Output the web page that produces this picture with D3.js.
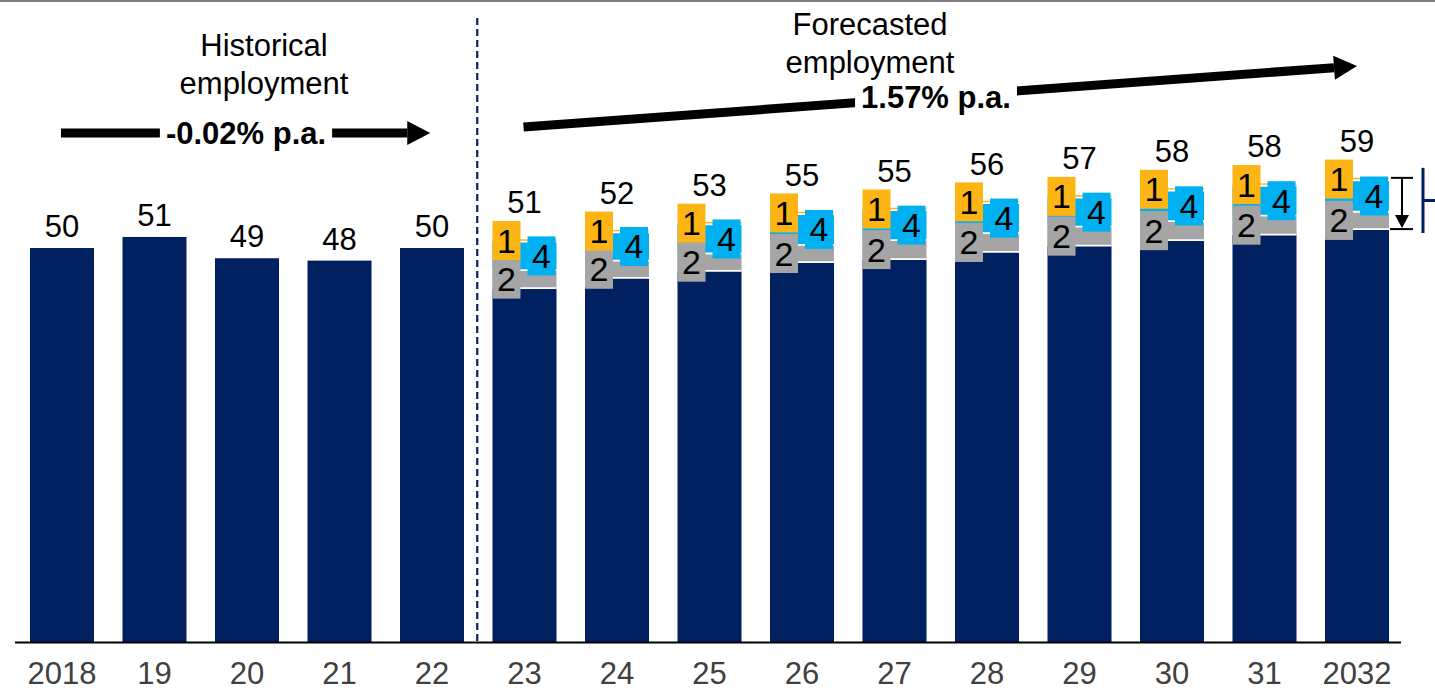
<!DOCTYPE html>
<html>
<head>
<meta charset="utf-8">
<script src="https://cdn.jsdelivr.net/npm/d3@7"></script>
<style>
  html, body { margin: 0; padding: 0; background: #fff; }
  svg { display: block; font-family: "Liberation Sans", Arial, sans-serif; }
</style>
</head>
<body>
<svg id="chart" width="1435" height="693"></svg>
<script>
// Years on the axis (historical then forecast)
const histYears = ["2018", "19", "20", "21", "22"];
const foreYears = ["23", "24", "25", "26", "27", "28", "29", "30", "31", "2032"];

// Historical employment
const histValues = [50.0, 51.4, 48.7, 48.4, 50.0];

// Forecast employment, stacked components
const foreBase   = [44.9, 46.2, 47.1, 48.2, 48.6, 49.5, 50.3, 51.0, 51.7, 52.4];
const foreGray   = [2.3, 2.2, 2.2, 2.2, 2.4, 2.4, 2.4, 2.4, 2.4, 2.2];
const foreBlue   = [3.6, 3.6, 3.7, 3.9, 3.8, 3.8, 3.7, 3.9, 3.8, 4.0];
const foreOrange = [0.3, 0.3, 0.3, 0.3, 0.3, 0.3, 0.3, 0.3, 0.3, 0.3];

// Segment markers
const segKeys    = ["base", "gray", "blue", "orange"];
const segMarkers = ["", "2", "4", "1"];

// Growth annotations
const histGrowth = "-0.02% p.a.";
const foreGrowth = "1.57% p.a.";

const NAVY = "#002060", GRAY = "#A5A5A5", BLUE = "#00B0F0", ORANGE = "#FDB515";
const segColors = [NAVY, GRAY, BLUE, ORANGE];

const svg = d3.select("#chart");
const W = 1435, H = 693;

const years = histYears.concat(foreYears);
const x = d3.scaleBand().domain(years).range([15.75, 1403.25])
  .paddingInner(0.308).paddingOuter(0.154);
const y = d3.scaleLinear().domain([0, 60]).range([642, 642 - 60 * 7.88]);
const bw = x.bandwidth();
const fmt = d3.format(".0f");

// top rule
svg.append("rect").attr("x", 0).attr("y", 0).attr("width", W).attr("height", 2).attr("fill", "#808080");

// historical bars
const hist = histYears.map((yr, i) => ({ yr, v: histValues[i] }));
svg.append("g").selectAll("rect").data(hist).join("rect")
  .attr("x", d => x(d.yr)).attr("width", bw)
  .attr("y", d => y(d.v)).attr("height", d => y(0) - y(d.v))
  .attr("fill", NAVY);
svg.append("g").selectAll("text").data(hist).join("text")
  .attr("x", d => x(d.yr) + bw / 2).attr("y", d => y(d.v) - 11)
  .attr("text-anchor", "middle").attr("font-size", 31).attr("fill", "#000")
  .text(d => fmt(d.v));

// forecast stacked bars
const fore = foreYears.map((yr, i) => ({
  yr, base: foreBase[i], gray: foreGray[i], blue: foreBlue[i], orange: foreOrange[i]
}));
const stacked = d3.stack().keys(segKeys)(fore);
const gFore = svg.append("g");
stacked.forEach((layer, li) => {
  gFore.append("g").selectAll("rect").data(layer).join("rect")
    .attr("x", d => x(d.data.yr)).attr("width", bw)
    .attr("y", d => y(d[1])).attr("height", d => y(d[0]) - y(d[1]))
    .attr("fill", segColors[li]);
});
// white separators between segments
stacked.slice(0, 3).forEach(layer => {
  gFore.append("g").selectAll("line").data(layer).join("line")
    .attr("x1", d => x(d.data.yr)).attr("x2", d => x(d.data.yr) + bw)
    .attr("y1", d => y(d[1])).attr("y2", d => y(d[1]))
    .attr("stroke", "#fff").attr("stroke-width", 1.8);
});

// segment marker boxes
const boxW = 28, boxH = 39;
const boxPlacement = { 1: "left", 2: "right", 3: "left" };
[1, 2, 3].forEach(li => {
  const layer = stacked[li];
  const g = svg.append("g").selectAll("g").data(layer).join("g")
    .attr("transform", d => {
      const cy = (y(d[0]) + y(d[1])) / 2;
      const bx = boxPlacement[li] === "left" ? x(d.data.yr) : x(d.data.yr) + bw - boxW - 1;
      return `translate(${bx},${cy - boxH / 2})`;
    });
  g.append("rect").attr("width", boxW).attr("height", boxH).attr("fill", segColors[li]);
  g.append("text").attr("x", boxW / 2).attr("y", boxH / 2 + 12)
    .attr("text-anchor", "middle").attr("font-size", 34).attr("fill", "#000")
    .text(segMarkers[li]);
});

// forecast totals
svg.append("g").selectAll("text").data(fore).join("text")
  .attr("x", d => x(d.yr) + bw / 2)
  .attr("y", d => y(d.base + d.gray + d.blue + d.orange) - 26)
  .attr("text-anchor", "middle").attr("font-size", 31).attr("fill", "#000")
  .text(d => fmt(d.base + d.gray + d.blue + d.orange));

// x axis
svg.append("line").attr("x1", 15).attr("x2", 1401).attr("y1", y(0) + 0.5).attr("y2", y(0) + 0.5)
  .attr("stroke", "#000").attr("stroke-width", 2);
svg.append("g").selectAll("text").data(years).join("text")
  .attr("x", d => x(d) + bw / 2).attr("y", 684)
  .attr("text-anchor", "middle").attr("font-size", 31).attr("fill", "#404040")
  .text(d => d);

// historical / forecast divider
const divX = (x("22") + bw + x("23")) / 2 - 1;
svg.append("line").attr("x1", divX).attr("x2", divX).attr("y1", 18).attr("y2", y(0))
  .attr("stroke", NAVY).attr("stroke-width", 2.2).attr("stroke-dasharray", "7 4");

// section titles
function title(lines, cx, y0) {
  const t = svg.append("text").attr("text-anchor", "middle").attr("font-size", 31).attr("fill", "#000");
  lines.forEach((s, i) => t.append("tspan").attr("x", cx).attr("y", y0 + i * 37.5).text(s));
}
title(["Historical", "employment"], 264, 56);
title(["Forecasted", "employment"], 870, 35);

// growth arrows
function growthArrow(x0, y0, x1, y1, label, lx, ly) {
  const g = svg.append("g");
  const dx = x1 - x0, dy = y1 - y0, len = Math.hypot(dx, dy);
  const ux = dx / len, uy = dy / len;
  const headL = 23, headW = 12;
  const bx = x1 - ux * headL, by = y1 - uy * headL;
  g.append("line").attr("x1", x0).attr("y1", y0).attr("x2", bx).attr("y2", by)
    .attr("stroke", "#000").attr("stroke-width", 9);
  g.append("polygon").attr("fill", "#000").attr("points", [
    [x1, y1], [bx - uy * headW, by + ux * headW], [bx + uy * headW, by - ux * headW]
  ].map(p => p.join(",")).join(" "));
  const bg = g.append("rect").attr("fill", "#fff");
  const t = g.append("text").attr("x", lx).attr("y", ly + 11)
    .attr("text-anchor", "middle").attr("font-size", 31).attr("font-weight", "bold")
    .attr("fill", "#000").text(label);
  const bb = t.node().getBBox();
  bg.attr("x", bb.x - 6).attr("y", ly - 14).attr("width", bb.width + 12).attr("height", 28);
}
growthArrow(x("2018") + 31, 133, divX - 47, 133, histGrowth, 246, 133);
growthArrow(x("23") + 31, 127, x("2032") + 32, 66, foreGrowth, 936, 97);

// range bracket on the last forecast bar
const last = fore[fore.length - 1];
const yTop = y(last.base + last.gray + last.blue + last.orange);
const yBot = y(last.base);
const bxr = 1402;
svg.append("line").attr("x1", bxr).attr("x2", bxr).attr("y1", yTop).attr("y2", yBot - 12)
  .attr("stroke", "#000").attr("stroke-width", 2);
svg.append("line").attr("x1", bxr - 11).attr("x2", bxr + 11).attr("y1", yTop).attr("y2", yTop)
  .attr("stroke", "#000").attr("stroke-width", 2);
svg.append("line").attr("x1", bxr - 12).attr("x2", bxr + 11).attr("y1", yBot).attr("y2", yBot)
  .attr("stroke", "#000").attr("stroke-width", 2);
svg.append("polygon").attr("fill", "#000")
  .attr("points", `${bxr},${yBot - 1} ${bxr - 7},${yBot - 14} ${bxr + 7},${yBot - 14}`);
const nx = 1423;
svg.append("line").attr("x1", nx).attr("x2", nx).attr("y1", yTop - 10).attr("y2", yBot + 4)
  .attr("stroke", NAVY).attr("stroke-width", 3);
svg.append("line").attr("x1", nx).attr("x2", W).attr("y1", (yTop + yBot) / 2 - 3).attr("y2", (yTop + yBot) / 2 - 3)
  .attr("stroke", NAVY).attr("stroke-width", 3);
</script>
</body>
</html>
